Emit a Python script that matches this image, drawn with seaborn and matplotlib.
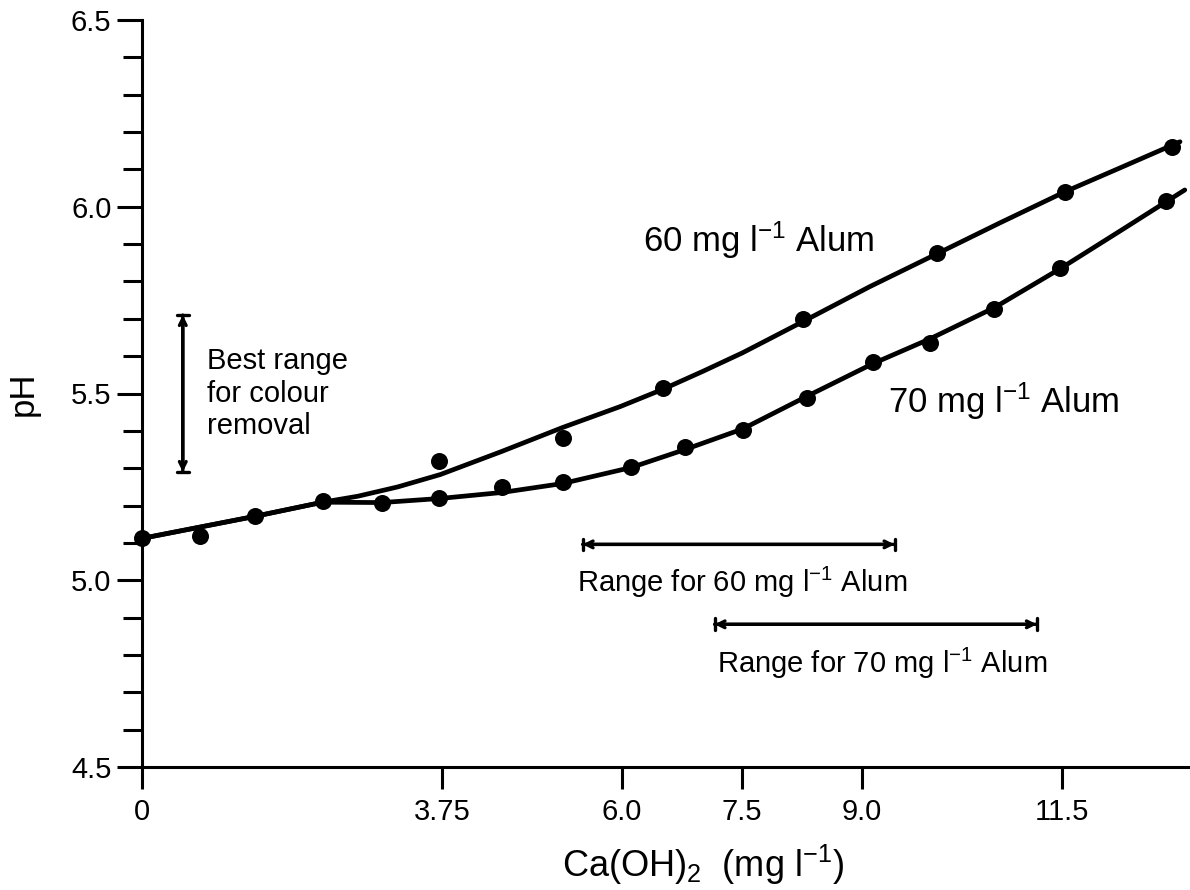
import matplotlib
matplotlib.use("Agg")
import matplotlib.pyplot as plt
import seaborn as sns
import pandas as pd
from matplotlib.ticker import MultipleLocator, FormatStrFormatter

# ---------------- data ----------------
# points common to both doses (low lime additions)
shared_x = [0.0, 0.72, 1.41, 2.26]
shared_ph = [5.112, 5.118, 5.171, 5.211]

# 60 mg/l alum measured points
alum60_x = [3.72, 5.26, 6.51, 8.26, 9.94, 11.54, 12.88]
alum60_ph = [5.318, 5.380, 5.516, 5.700, 5.877, 6.040, 6.160]

# 70 mg/l alum measured points
alum70_x = [3.00, 3.72, 4.50, 5.26, 6.12, 6.79, 7.51, 8.31, 9.14, 9.85, 10.66, 11.48, 12.81]
alum70_ph = [5.206, 5.219, 5.249, 5.262, 5.302, 5.356, 5.401, 5.489, 5.583, 5.636, 5.727, 5.837, 6.016]

# drawn (fitted) curves
curve60_x = [0.0, 1.41, 2.26, 2.7, 3.2, 3.73, 4.5, 5.26, 5.98, 6.51, 7.01, 7.51, 8.26, 9.1, 9.94,
             10.73, 11.54, 12.23, 12.98]
curve60_ph = [5.112, 5.171, 5.209, 5.225, 5.250, 5.283, 5.345, 5.409, 5.465, 5.511, 5.559, 5.609,
              5.692, 5.786, 5.874, 5.957, 6.040, 6.104, 6.174]
curve70_x = [0.0, 1.41, 2.26, 3.0, 3.73, 4.5, 5.26, 6.12, 6.79, 7.51, 8.31, 9.14, 9.85, 10.66,
             11.48, 12.23, 13.04]
curve70_ph = [5.112, 5.171, 5.209, 5.208, 5.219, 5.235, 5.259, 5.302, 5.350, 5.405, 5.492, 5.580,
              5.646, 5.730, 5.834, 5.935, 6.045]

# ranges
best_range_ph = [5.29, 5.71]
best_range_x = 0.51
range60_x = [5.51, 9.41]
range60_ph = 5.096
range70_x = [7.16, 11.19]
range70_ph = 4.882

xtick_vals = [0, 3.75, 6.0, 7.5, 9.0, 11.5]
xtick_labels = ["0", "3.75", "6.0", "7.5", "9.0", "11.5"]

# ---------------- style ----------------
sns.set_theme(style="ticks")
plt.rcParams["font.family"] = ["Liberation Sans", "DejaVu Sans"]
plt.rcParams["mathtext.fontset"] = "custom"
plt.rcParams["mathtext.rm"] = "Liberation Sans"
plt.rcParams["mathtext.it"] = "Liberation Sans:italic"
plt.rcParams["mathtext.bf"] = "Liberation Sans:bold"
plt.rcParams["axes.linewidth"] = 2.2
for key in ["text.color", "axes.labelcolor", "xtick.color", "ytick.color", "axes.edgecolor"]:
    plt.rcParams[key] = "black"
plt.rcParams["xtick.labelcolor"] = "black"
plt.rcParams["ytick.labelcolor"] = "black"

fig = plt.figure(figsize=(11.9, 8.9), dpi=100)
ax = fig.add_axes([142 / 1190, 123 / 890, 1046 / 1190, 747 / 890])

c60 = pd.DataFrame({"x": curve60_x, "ph": curve60_ph})
c70 = pd.DataFrame({"x": curve70_x, "ph": curve70_ph})
sns.lineplot(data=c60, x="x", y="ph", ax=ax, color="black", lw=3.4, estimator=None)
sns.lineplot(data=c70, x="x", y="ph", ax=ax, color="black", lw=3.4, estimator=None)

pts = pd.DataFrame({
    "x": shared_x + alum60_x + alum70_x,
    "ph": shared_ph + alum60_ph + alum70_ph,
})
sns.scatterplot(data=pts, x="x", y="ph", ax=ax, color="black", s=150,
                edgecolor="black", linewidth=0, zorder=5, clip_on=False)

ax.set_xlim(0, 13.08)
ax.set_ylim(4.5, 6.5)
sns.despine(ax=ax)

ax.set_xticks(xtick_vals)
ax.set_xticklabels(xtick_labels)
ax.yaxis.set_major_locator(MultipleLocator(0.5))
ax.yaxis.set_minor_locator(MultipleLocator(0.1))
ax.yaxis.set_major_formatter(FormatStrFormatter("%.1f"))
ax.tick_params(axis="x", which="major", length=16, width=2.2, labelsize=21, pad=6, colors="black")
ax.tick_params(axis="y", which="major", length=18, width=2.2, labelsize=21, pad=4, colors="black")
ax.tick_params(axis="y", which="minor", length=14, width=2.2, colors="black")

ax.set_xlabel("Ca(OH)$_2$  (mg l$^{-1}$)", fontsize=26, color="black")
ax.xaxis.set_label_coords(0.536, -0.102)
ax.set_ylabel("pH", fontsize=25, color="black")
ax.yaxis.set_label_coords(-0.098, 0.5)

# curve labels
ax.text(6.26, 5.909, "60 mg l$^{-1}$ Alum", fontsize=25, ha="left", va="center", color="black")
ax.text(9.33, 5.48, "70 mg l$^{-1}$ Alum", fontsize=25, ha="left", va="center", color="black")


def range_bar(p0, p1):
    ax.annotate("", xy=p1, xytext=p0,
                arrowprops=dict(arrowstyle="|-|,widthA=0.35,widthB=0.35", lw=2.4, color="black",
                                shrinkA=0, shrinkB=0))
    ax.annotate("", xy=p1, xytext=p0,
                arrowprops=dict(arrowstyle="<->,head_length=0.4,head_width=0.2", lw=2.4, color="black",
                                shrinkA=0, shrinkB=0))


range_bar((best_range_x, best_range_ph[0]), (best_range_x, best_range_ph[1]))
ax.text(0.81, 5.5, "Best range\nfor colour\nremoval", fontsize=21, ha="left", va="center",
        linespacing=1.2, color="black")

range_bar((range60_x[0], range60_ph), (range60_x[1], range60_ph))
ax.text(7.5, 4.995, "Range for 60 mg l$^{-1}$ Alum", fontsize=21, ha="center", va="center", color="black")
range_bar((range70_x[0], range70_ph), (range70_x[1], range70_ph))
ax.text(9.25, 4.778, "Range for 70 mg l$^{-1}$ Alum", fontsize=21, ha="center", va="center", color="black")

fig.savefig("out.png", dpi=100, facecolor="white")
